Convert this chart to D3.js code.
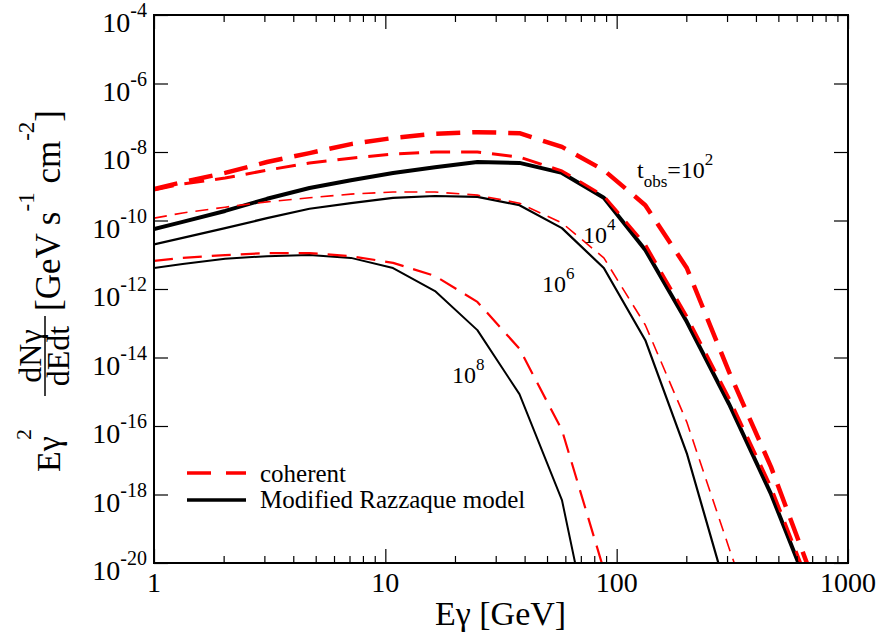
<!DOCTYPE html>
<html>
<head>
<meta charset="utf-8">
<script src="https://cdn.jsdelivr.net/npm/d3@7"></script>
<style>
  html, body { margin: 0; padding: 0; background: #fff; }
</style>
</head>
<body>
<script>
// ---------------- DATA ----------------
const energy = [1, 1.33, 2.03, 3.08, 4.7, 7.1, 10.8, 16.4, 25, 38, 58, 88, 133, 201, 306, 465, 707];

// coherent model (red dashed), E^2 dN/dEdt [GeV s^-1 cm^-2]
const coh_t1e2 = [8.3e-10, 1.32e-9, 2.45e-9, 5.1e-9, 9.3e-9, 1.7e-8, 2.57e-8, 3.4e-8, 3.8e-8, 3.55e-8, 1.41e-8, 2.95e-9, 2.8e-10, 4.1e-12, 3.8e-15, 6.3e-18, 3.2e-21];
const coh_t1e4 = [7.8e-10, 1.17e-9, 1.74e-9, 2.95e-9, 4.8e-9, 6.6e-9, 8.7e-9, 1.0e-8, 1.0e-8, 7.1e-9, 2.8e-9, 5.2e-10, 2.0e-11, 1.6e-13, 6.6e-16, 1.66e-18, 1.17e-21];
const coh_t1e6 = [1.17e-10, 1.66e-10, 2.45e-10, 3.5e-10, 4.6e-10, 5.9e-10, 6.8e-10, 6.8e-10, 5.5e-10, 3.2e-10, 8.5e-11, 8.1e-12, 8.9e-14, 1.3e-16, 2.75e-20, 8e-24];
const coh_t1e8 = [6.6e-12, 8.1e-12, 9.8e-12, 1.12e-11, 1.12e-11, 9.1e-12, 5.8e-12, 2.4e-12, 4.2e-13, 1.8e-14, 7.6e-17, 6.3e-21];

// Modified Razzaque model (black solid)
const raz_t1e2 = [5.6e-11, 9.1e-11, 1.9e-10, 4.3e-10, 8.9e-10, 1.5e-9, 2.45e-9, 3.6e-9, 5.1e-9, 4.8e-9, 2.45e-9, 4.6e-10, 1.38e-11, 1.1e-13, 4.4e-16, 1.02e-18, 8.3e-22];
const raz_t1e6 = [2.0e-11, 3.1e-11, 6.0e-11, 1.17e-10, 2.2e-10, 3.2e-10, 4.6e-10, 5.2e-10, 4.9e-10, 2.8e-10, 6.0e-11, 4.1e-12, 3.2e-14, 1.6e-17, 8.3e-22];
const raz_t1e8 = [4.1e-12, 5.4e-12, 7.6e-12, 9.1e-12, 9.8e-12, 8.1e-12, 4.1e-12, 8.7e-13, 6.3e-14, 8.5e-16, 6.9e-19, 1e-24];

const xMajorTicks = [1, 10, 100, 1000];
const xMajorLabels = ["1", "10", "100", "1000"];
const xMinorTicks = [2,3,4,5,6,7,8,9,20,30,40,50,60,70,80,90,200,300,400,500,600,700,800,900];
const yTicks = [1e-20, 1e-18, 1e-16, 1e-14, 1e-12, 1e-10, 1e-8, 1e-6, 1e-4];
const yTickExponents = ["-20", "-18", "-16", "-14", "-12", "-10", "-8", "-6", "-4"];

const legendLabels = ["coherent", "Modified Razzaque model"];

// ---------------- CHART ----------------
const W = 884, H = 641;
const L = 154, R = 848, T = 15, B = 563;
const FONT = "'Liberation Serif', 'Times New Roman', Times, serif";

const svg = d3.select("body").append("svg")
  .attr("width", W).attr("height", H)
  .attr("font-family", FONT)
  .style("font-family", FONT);

const x = d3.scaleLog().domain([1, 1000]).range([L, R]);
const y = d3.scaleLog().domain([1e-20, 1e-4]).range([B, T]);

svg.append("defs").append("clipPath").attr("id", "clip")
  .append("rect").attr("x", L).attr("y", T).attr("width", R - L).attr("height", B - T);

// curves
const line = d3.line().x(d => x(d[0])).y(d => y(d[1]));
const zip = arr => arr.map((v, i) => [energy[i], v]);

const curves = [
  { data: raz_t1e8, color: "#000", width: 2.0, dash: null },
  { data: raz_t1e6, color: "#000", width: 2.2, dash: null },
  { data: raz_t1e2, color: "#000", width: 4.0, dash: null },
  { data: coh_t1e8, color: "#ff0000", width: 2.2, dash: "19,10" },
  { data: coh_t1e6, color: "#ff0000", width: 1.6, dash: "13,8" },
  { data: coh_t1e4, color: "#ff0000", width: 3.0, dash: "20,11" },
  { data: coh_t1e2, color: "#ff0000", width: 4.5, dash: "24,12" }
];

const plot = svg.append("g").attr("clip-path", "url(#clip)");
curves.forEach(c => {
  plot.append("path")
    .attr("d", line(zip(c.data)))
    .attr("fill", "none")
    .attr("stroke", c.color)
    .attr("stroke-width", c.width)
    .attr("stroke-dasharray", c.dash)
    .attr("stroke-linejoin", "round");
});

// axes (ticks inward)
function styleAxis(g) {
  g.select(".domain").remove();
  g.selectAll(".tick line").attr("stroke", "#000").attr("stroke-width", 1.2);
  g.selectAll(".tick text").remove();
}
svg.append("g").attr("transform", `translate(0,${B})`)
  .call(d3.axisBottom(x).tickValues(xMajorTicks).tickSize(-14).tickFormat("")).call(styleAxis);
svg.append("g").attr("transform", `translate(0,${B})`)
  .call(d3.axisBottom(x).tickValues(xMinorTicks).tickSize(-7).tickFormat("")).call(styleAxis);
svg.append("g").attr("transform", `translate(0,${T})`)
  .call(d3.axisTop(x).tickValues(xMajorTicks).tickSize(-14).tickFormat("")).call(styleAxis);
svg.append("g").attr("transform", `translate(0,${T})`)
  .call(d3.axisTop(x).tickValues(xMinorTicks).tickSize(-7).tickFormat("")).call(styleAxis);
svg.append("g").attr("transform", `translate(${L},0)`)
  .call(d3.axisLeft(y).tickValues(yTicks).tickSize(-14).tickFormat("")).call(styleAxis);
svg.append("g").attr("transform", `translate(${R},0)`)
  .call(d3.axisRight(y).tickValues(yTicks).tickSize(-14).tickFormat("")).call(styleAxis);

// frame
svg.append("rect").attr("x", L).attr("y", T).attr("width", R - L).attr("height", B - T)
  .attr("fill", "none").attr("stroke", "#000").attr("stroke-width", 2);

// x tick labels
svg.append("g").selectAll("text").data(xMajorTicks).join("text")
  .attr("x", d => x(d)).attr("y", 592)
  .attr("text-anchor", "middle").attr("font-size", 28)
  .text((d, i) => xMajorLabels[i]);

// y tick labels
const yl = svg.append("g").selectAll("text").data(yTicks).join("text")
  .attr("x", 147).attr("y", d => y(d) + 17)
  .attr("text-anchor", "end");
yl.append("tspan").attr("font-size", 28).text("10");
yl.append("tspan").attr("font-size", 20).attr("dy", -15).text((d, i) => yTickExponents[i]);

// x axis title
svg.append("text").attr("x", 435).attr("y", 625).attr("font-size", 34).text("Eγ [GeV]");

// y axis title (rotated pieces)
function rot(sx, sy) { return `translate(${sx},${sy}) rotate(-90)`; }
svg.append("text").attr("transform", rot(60, 472)).attr("font-size", 34).text("Eγ");
svg.append("text").attr("transform", rot(31, 440)).attr("font-size", 22).text("2");

svg.append("text").attr("transform", rot(41, 356)).attr("font-size", 32)
  .attr("text-anchor", "middle").text("dNγ");
svg.append("line").attr("x1", 45).attr("x2", 45).attr("y1", 316).attr("y2", 396)
  .attr("stroke", "#000").attr("stroke-width", 1.5);
svg.append("text").attr("transform", rot(69, 356)).attr("font-size", 32)
  .attr("text-anchor", "middle").text("dEdt");

const yt3 = svg.append("text").attr("transform", rot(60, 311)).attr("font-size", 35);
yt3.append("tspan").text("[GeV s");
yt3.append("tspan").attr("font-size", 23).attr("dy", -26).text("-1");
yt3.append("tspan").attr("dy", 26).text(" cm");
yt3.append("tspan").attr("font-size", 23).attr("dy", -26).text("-2");
yt3.append("tspan").attr("dy", 26).text("]");

// curve annotations
function powLabel(x0, y0, base, sub, sup) {
  const t = svg.append("text").attr("x", x0).attr("y", y0).attr("font-size", 24);
  if (sub) {
    t.append("tspan").text(sub[0]);
    t.append("tspan").attr("font-size", 17).attr("dy", 9).text(sub[1]);
    t.append("tspan").attr("dy", -9).text(base);
  } else {
    t.append("tspan").text(base);
  }
  t.append("tspan").attr("font-size", 17).attr("dy", -13).text(sup);
}
powLabel(637, 178, "=10", ["t", "obs"], "2");
powLabel(583, 243, "10", null, "4");
powLabel(542, 292, "10", null, "6");
powLabel(452, 383, "10", null, "8");

// legend
const lg = svg.append("g");
lg.append("line").attr("x1", 187).attr("x2", 246).attr("y1", 473).attr("y2", 473)
  .attr("stroke", "#ff0000").attr("stroke-width", 3.5).attr("stroke-dasharray", "24,15");
lg.append("line").attr("x1", 187).attr("x2", 246).attr("y1", 500).attr("y2", 500)
  .attr("stroke", "#000").attr("stroke-width", 3.5);
lg.append("text").attr("x", 260).attr("y", 482).attr("font-size", 25).text(legendLabels[0]);
lg.append("text").attr("x", 260).attr("y", 508).attr("font-size", 25).text(legendLabels[1]);
</script>
</body>
</html>
